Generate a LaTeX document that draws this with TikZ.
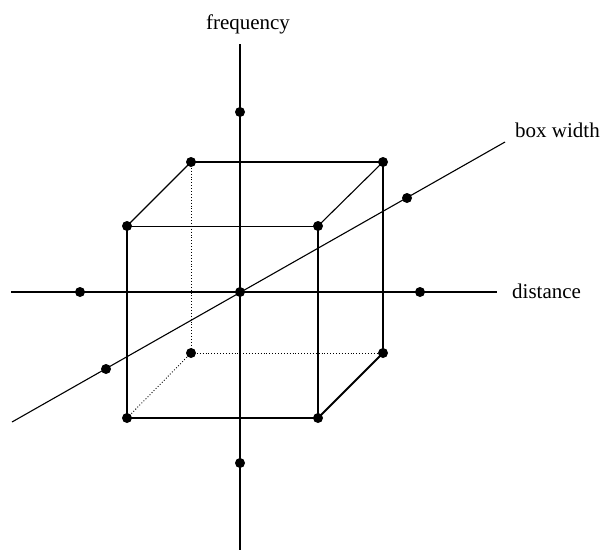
\documentclass[tikz,border=0pt]{standalone}
\usepackage{fontspec}
\setmainfont{Liberation Serif}
\begin{document}
\begin{tikzpicture}[x=1pt,y=-1pt,
  thinln/.style={line width=1.1pt},
  thickln/.style={line width=1.9pt},
  hidden/.style={line width=0.9pt, dotted},
  dotpt/.style={circle, fill=black, inner sep=0pt, minimum size=10pt},
  lbl/.style={font=\fontsize{21}{24}\selectfont, inner sep=0pt}]
\useasboundingbox (0,0) rectangle (604,552);
% axis end points
\coordinate (O) at (240,292);
\coordinate (vtop) at (240,44);
\coordinate (vmid) at (240,184);
\coordinate (vbot) at (240,550);
\coordinate (hl) at (11,292);
\coordinate (hr) at (497,292);
\coordinate (dl) at (12,422);
\coordinate (dr) at (505,142);
% cube corners
\coordinate (ftl) at (127,226);
\coordinate (ftr) at (318,226);
\coordinate (fbl) at (127,418);
\coordinate (fbr) at (318,418);
\coordinate (btl) at (191,162);
\coordinate (btr) at (383,162);
\coordinate (bbl) at (191,353);
\coordinate (bbr) at (383,353);
% hidden edges
\draw[hidden] (btl) -- (bbl);
\draw[hidden] (bbl) -- (bbr);
\draw[hidden] (bbl) -- (fbl);
% axes
\draw[thinln] (hl) -- (hr);
\draw[thickln] (vtop) -- (vmid);
\draw[thinln] (vmid) -- (vbot);
\draw[thinln] (dl) -- (dr);
% visible cube edges
\draw[thinln] (btl) -- (btr);
\draw[thinln] (btr) -- (bbr);
\draw[thinln] (ftl) -- (btl);
\draw[thinln] (ftr) -- (btr);
\draw[line width=1pt] (ftl) -- (ftr);
\draw[thinln] (fbl) -- (fbr);
\draw[thickln] (ftl) -- (fbl);
\draw[thickln] (ftr) -- (fbr);
\draw[thickln] (fbr) -- (bbr);
% dots
\node[dotpt] (dO) at (O) {};
\node[dotpt] (d1) at (240,112) {};
\node[dotpt] (d2) at (240,463) {};
\node[dotpt] (d3) at (80,292) {};
\node[dotpt] (d4) at (420,292) {};
\node[dotpt] (d5) at (407,198) {};
\node[dotpt] (d6) at (106,369) {};
\node[dotpt] (c1) at (ftl) {};
\node[dotpt] (c2) at (ftr) {};
\node[dotpt] (c3) at (fbl) {};
\node[dotpt] (c4) at (fbr) {};
\node[dotpt] (c5) at (btl) {};
\node[dotpt] (c6) at (btr) {};
\node[dotpt] (c7) at (bbl) {};
\node[dotpt] (c8) at (bbr) {};
% labels
\node[lbl, anchor=base] (lf) at (248,29) {frequency};
\node[lbl, anchor=base west] (ld) at (512,298) {distance};
\node[lbl, anchor=base west] (lb) at (515,137) {box width};
\end{tikzpicture}
\end{document}
